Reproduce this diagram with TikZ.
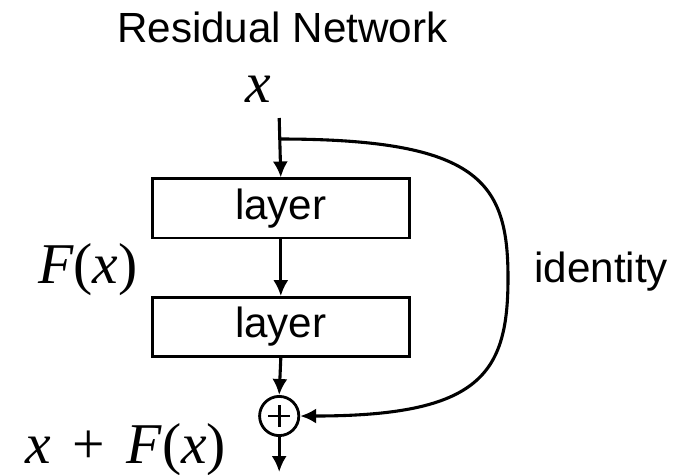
\documentclass[tikz,border=0pt]{standalone}
\usepackage{fontspec}
\setmainfont{Liberation Sans}
\newfontfamily\timesfont{Liberation Serif}
\usetikzlibrary{arrows.meta}

\tikzset{
  layerbox/.style={draw, line width=1.9pt, minimum width=6.42cm, minimum height=1.48cm,
    font=\fontsize{30}{36}\selectfont},
  sumnode/.style={draw, circle, line width=2pt, minimum size=0.98cm, inner sep=0pt,
    path picture={\draw[line width=2pt] (path picture bounding box.center) ++(-0.28,0) -- ++(0.56,0)
      (path picture bounding box.center) ++(0,-0.28) -- ++(0,0.56);}},
  flow/.style={line width=2.2pt, -{Latex[length=0.4cm,width=0.38cm]}},
  mathlbl/.style={font=\timesfont\fontsize{41}{46}\selectfont, inner sep=0pt},
  textlbl/.style={font=\fontsize{30}{36}\selectfont, inner sep=0pt}
}

\begin{document}
\begin{tikzpicture}
\useasboundingbox (0,0) rectangle (17.1,-11.85);

\node[textlbl, anchor=base] (title) at (7.06,-1.05) {Residual Network};
\node[mathlbl, anchor=base] (xin) at (6.45,-2.55) {\itshape x};

\coordinate (start) at (6.98,-2.95);
\coordinate (split) at (6.98,-3.475);
\node[layerbox] (layer1) at (7.02,-5.21) {layer};
\node[layerbox] (layer2) at (7.02,-8.175) {layer};
\node[sumnode] (sum) at (6.98,-10.4) {};
\coordinate (out) at (6.98,-11.8);
\coordinate (bend) at (12.7,-6.95);

\node[mathlbl, anchor=base west] (fx) at (0.95,-7.075) {{\itshape F}({\itshape x})};
\node[textlbl, anchor=base west] (ident) at (13.35,-7.05) {identity};
\node[mathlbl, anchor=base west] (res) at (0.62,-11.58)
  {{\itshape x}\hspace{0.38em}+\hspace{0.38em}{\itshape F}({\itshape x})};

\draw[flow] (start) -- (layer1.north);
\draw[flow] (layer1.south) -- (layer2.north);
\draw[flow] (layer2.south) -- (sum.north);
\draw[flow] (sum.south) -- (out);
\draw[flow] (split) .. controls +(5,0) and +(0,2.4) .. (bend)
  .. controls +(0,-2.4) and +(4.5,0) .. (sum.east);
\end{tikzpicture}
\end{document}
